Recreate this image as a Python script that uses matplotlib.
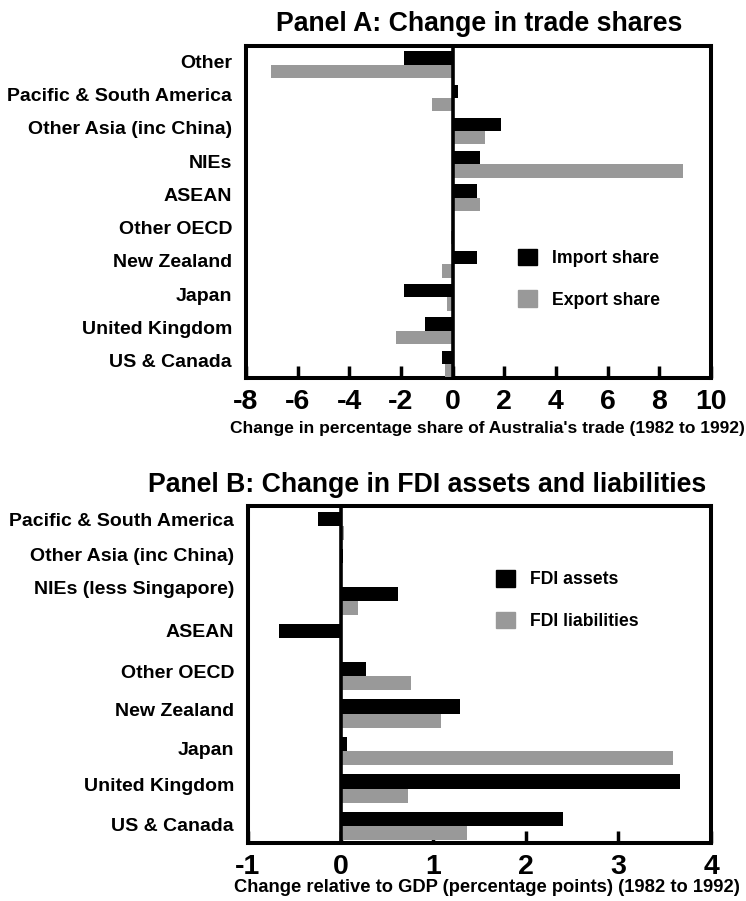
import matplotlib
matplotlib.use("Agg")
import matplotlib.pyplot as plt
from matplotlib.patches import Patch
import numpy as np

plt.rcParams['font.family'] = ['Liberation Sans', 'DejaVu Sans']
plt.rcParams['font.weight'] = 'bold'

# ---- Data ----
trade_regions = ['Other', 'Pacific & South America', 'Other Asia (inc China)', 'NIEs',
                 'ASEAN', 'Other OECD', 'New Zealand', 'Japan', 'United Kingdom', 'US & Canada']
import_share = [-1.90, 0.19, 1.87, 1.06, 0.93, 0.00, 0.93, -1.90, -1.09, -0.41]
export_share = [-7.04, -0.80, 1.25, 8.91, 1.06, -0.08, -0.41, -0.22, -2.20, -0.30]
trade_ticks = [-8, -6, -4, -2, 0, 2, 4, 6, 8, 10]

fdi_regions = ['Pacific & South America', 'Other Asia (inc China)', 'NIEs (less Singapore)',
               'ASEAN', 'Other OECD', 'New Zealand', 'Japan', 'United Kingdom', 'US & Canada']
fdi_assets = [-0.24, 0.03, 0.62, -0.66, 0.27, 1.29, 0.07, 3.66, 2.40]
fdi_liabilities = [0.04, 0.00, 0.19, 0.00, 0.76, 1.08, 3.59, 0.73, 1.37]
fdi_ticks = [-1, 0, 1, 2, 3, 4]

# layout-only: vertical nudges of the category labels (in bar-group units)
label_nudge_B = [0.16, 0.24, 0.37, 0.21, 0.11, 0.11, 0.08, 0.11, 0.05]

BLACK = '#000000'
GREY = '#999999'

W, H = 746, 901
fig = plt.figure(figsize=(W / 100, H / 100), dpi=100)


def axes_px(l, t, r, b):
    return fig.add_axes([l / W, 1 - b / H, (r - l) / W, (b - t) / H])


def style(ax, ticks, lw=2.9):
    for s in ax.spines.values():
        s.set_linewidth(lw)
    ax.set_xticks(ticks)
    ax.set_xticklabels([str(t) for t in ticks])
    ax.tick_params(axis='x', direction='in', length=9, width=2.5, labelsize=20.5, pad=8)
    ax.tick_params(axis='y', length=0, labelsize=14, pad=10)
    ax.axvline(0, color=BLACK, lw=2.6, zorder=4)


# ---- Panel A ----
axA = axes_px(246, 46, 711, 378)
yA = np.arange(len(trade_regions))
hA = 0.40
axA.barh(yA - hA / 2, import_share, height=hA, color=BLACK, zorder=3)
axA.barh(yA + hA / 2, export_share, height=hA, color=GREY, zorder=3)
axA.set_xlim(trade_ticks[0], trade_ticks[-1])
axA.set_ylim(len(trade_regions) - 1 + 0.42, -0.56)
axA.set_yticks(yA - 0.1)
axA.set_yticklabels(trade_regions)
style(axA, trade_ticks)
axA.legend(handles=[Patch(color=BLACK, label='Import share'), Patch(color=GREY, label='Export share')],
           loc='upper left', bbox_to_anchor=(0.585, 0.39), frameon=False, borderpad=0,
           borderaxespad=0, fontsize=12.7, handlelength=1.08, handleheight=1.08,
           handletextpad=0.85, labelspacing=1.32)
fig.text(479 / W, 1 - 24 / H, 'Panel A: Change in trade shares', ha='center', va='center',
         fontsize=19.2, fontweight='bold')
fig.text(487 / W, 1 - 429 / H, "Change in percentage share of Australia's trade (1982 to 1992)",
         ha='center', va='center', fontsize=12.5, fontweight='bold')

# ---- Panel B ----
axB = axes_px(248, 506, 711, 843)
yB = np.arange(len(fdi_regions))
hB = 0.38
axB.barh(yB - hB / 2, fdi_assets, height=hB, color=BLACK, zorder=3)
axB.barh(yB + hB / 2, fdi_liabilities, height=hB, color=GREY, zorder=3)
axB.set_xlim(fdi_ticks[0], fdi_ticks[-1])
axB.set_ylim(len(fdi_regions) - 1 + 0.45, -0.53)
axB.set_yticks(yB - np.array(label_nudge_B))
axB.set_yticklabels(fdi_regions)
style(axB, fdi_ticks)
axB.legend(handles=[Patch(color=BLACK, label='FDI assets'), Patch(color=GREY, label='FDI liabilities')],
           loc='upper left', bbox_to_anchor=(0.535, 0.81), frameon=False, borderpad=0,
           borderaxespad=0, fontsize=12.7, handlelength=1.08, handleheight=1.08,
           handletextpad=0.85, labelspacing=1.32)
fig.text(427 / W, 1 - 485 / H, 'Panel B: Change in FDI assets and liabilities', ha='center', va='center',
         fontsize=19.2, fontweight='bold')
fig.text(487 / W, 1 - 888 / H, 'Change relative to GDP (percentage points) (1982 to 1992)',
         ha='center', va='center', fontsize=13.2, fontweight='bold')

fig.savefig('out.png', dpi=100)
